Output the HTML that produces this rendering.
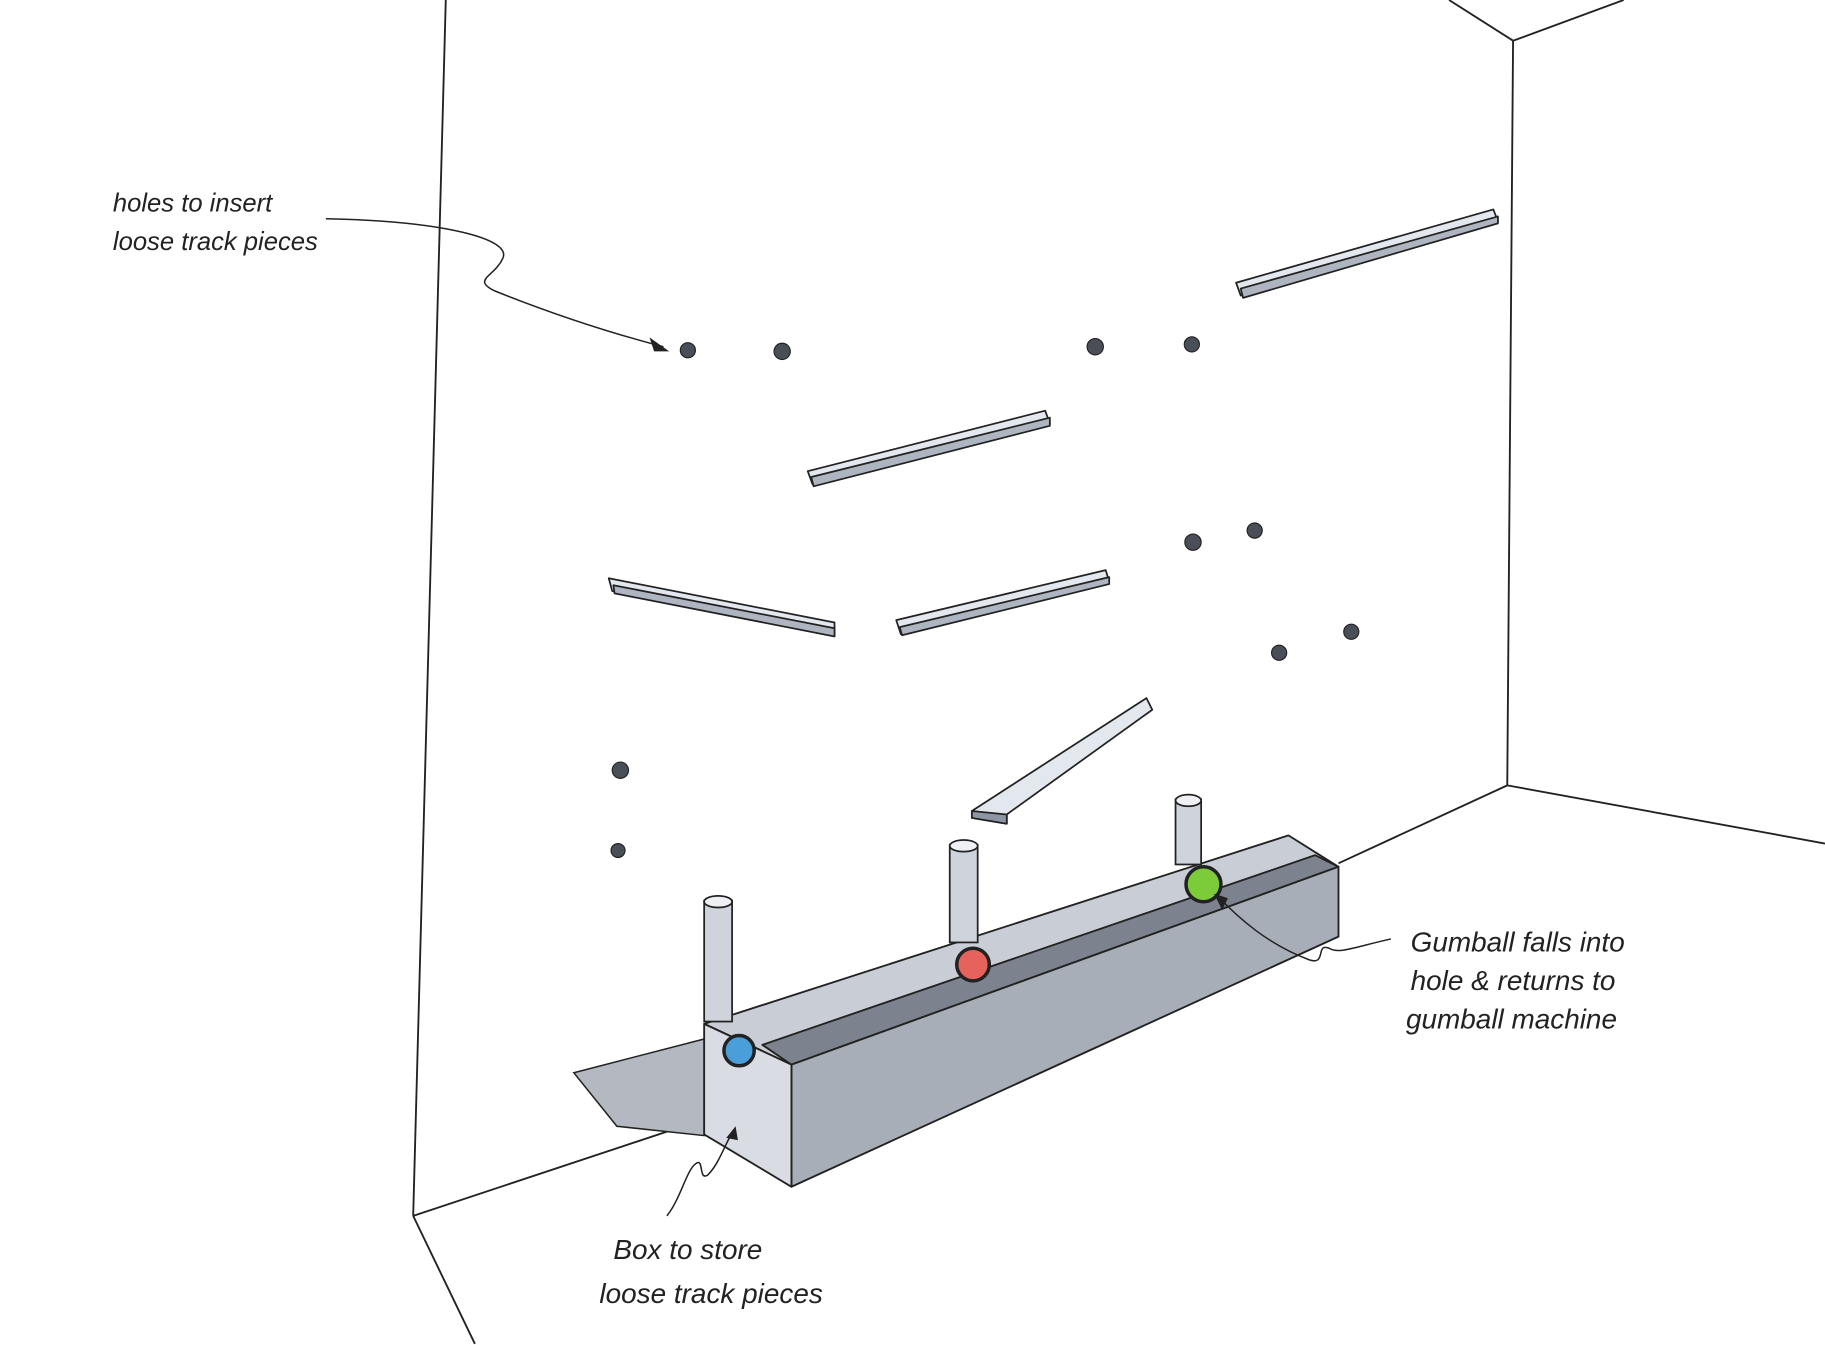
<!DOCTYPE html>
<html><head><meta charset="utf-8"><style>
html,body{margin:0;padding:0;background:#fff;}
svg{display:block;}
text{font-family:"Liberation Sans",sans-serif;font-style:italic;fill:#222;}
</style></head><body>
<svg width="1825" height="1345" viewBox="0 0 1568 1156" preserveAspectRatio="none" xmlns="http://www.w3.org/2000/svg">
<rect width="1568" height="1156" fill="#fff"/>
<g stroke="#222" stroke-width="1.6" fill="none">
<line x1="383" y1="0" x2="355" y2="1045"/>
<line x1="355" y1="1045" x2="408" y2="1155"/>
<line x1="355" y1="1045" x2="605" y2="962"/>
<line x1="1150" y1="742" x2="1295" y2="675"/>
<line x1="1300" y1="35" x2="1295" y2="675"/>
<line x1="1245" y1="0" x2="1300" y2="35"/>
<line x1="1300" y1="35" x2="1395" y2="0"/>
<line x1="1295" y1="675" x2="1568" y2="725"/>
</g>
<g fill="#4a4f57" stroke="#222" stroke-width="1">
<circle cx="591" cy="301" r="6.5"/><circle cx="672" cy="302" r="7"/>
<circle cx="941" cy="298" r="7"/><circle cx="1024" cy="296" r="6.5"/>
<circle cx="1025" cy="466" r="7"/><circle cx="1078" cy="456" r="6.5"/>
<circle cx="1099" cy="561" r="6.5"/><circle cx="1161" cy="543" r="6.5"/>
<circle cx="533" cy="662" r="7"/><circle cx="531" cy="731" r="6"/>
</g>
<g stroke="#222" stroke-width="1.5" stroke-linejoin="round">
<polygon points="1062,243 1283,180 1287,190 1066,254" fill="#e3e7ee"/>
<polygon points="1066,248 1287,186 1287,192 1068,256" fill="#aeb5c0"/>
<polygon points="694,405 898,353 902,364 698,416" fill="#e3e7ee"/>
<polygon points="697,410 902,359 902,366 699,418" fill="#aeb5c0"/>
<polygon points="523,497 717,535 717,547 526,508" fill="#e3e7ee"/>
<polygon points="527,503 717,540 717,547 528,510" fill="#aeb5c0"/>
<polygon points="770,533 950,490 953,500 774,545" fill="#e3e7ee"/>
<polygon points="773,539 953,496 953,502 775,546" fill="#aeb5c0"/>
<polygon points="835,697 985,600 990,610 865,700 865,708 835,703" fill="#e3e7ee"/>
<polygon points="835,697 865,700 865,708 835,703" fill="#8d96a4"/>
</g>
<polygon points="493,922 605,893 605,976 530,968" fill="#b4b9c1" stroke="#222" stroke-width="1.3"/>
<g stroke="#222" stroke-width="1.6" stroke-linejoin="round">
<polygon points="605,880 1107,718 1150,745 680,915" fill="#c9ced6"/>
<polygon points="655,898 1130,735 1150,745 680,915" fill="#7c838e"/>
<polygon points="680,915 1150,745 1150,805 680,1020" fill="#a8aeb7"/>
<polygon points="605,880 680,915 680,1020 605,975" fill="#d9dde3"/>
</g>
<g stroke="#222" stroke-width="1.5">
<rect x="605" y="774" width="24" height="104" fill="#cfd4dc"/>
<ellipse cx="617" cy="775" rx="12" ry="5" fill="#eef0f3"/>
<rect x="816" y="726" width="24" height="84" fill="#cfd4dc"/>
<ellipse cx="828" cy="727" rx="12" ry="5" fill="#eef0f3"/>
<rect x="1010" y="687" width="22" height="56" fill="#cfd4dc"/>
<ellipse cx="1021" cy="688" rx="11" ry="5" fill="#eef0f3"/>
</g>
<g stroke="#222" stroke-width="3">
<circle cx="635" cy="903" r="13" fill="#4a9fd8"/>
<circle cx="836" cy="829" r="14" fill="#e5635c"/>
<circle cx="1034" cy="760" r="15" fill="#7ccc3a"/>
</g>
<g stroke="#222" stroke-width="1.3" fill="none">
<path d="M280,188 C380,190 440,205 432,222 C425,238 405,240 425,250 C470,268 520,285 570,298"/>
<path d="M1195,807 C1160,815 1150,820 1142,815 C1130,810 1140,830 1125,825 C1090,812 1065,790 1046,770"/>
<path d="M573,1045 C585,1030 590,1005 598,1000 C605,995 600,1015 608,1010 C618,1000 622,985 630,972"/>
</g>
<g fill="#222">
<polygon points="575,302 558,290 562,302"/>
<polygon points="1043,768 1050,782 1055,772"/>
<polygon points="632,968 624,978 634,980"/>
</g>
<text x="97" y="182" font-size="22">holes to insert</text>
<text x="97" y="215" font-size="22">loose track pieces</text>
<text x="1212" y="818" font-size="24">Gumball falls into</text>
<text x="1212" y="851" font-size="24">hole &amp; returns to</text>
<text x="1208" y="884" font-size="24">gumball machine</text>
<text x="527" y="1082" font-size="24">Box to store</text>
<text x="515" y="1120" font-size="24">loose track pieces</text>
</svg>
</body></html>
